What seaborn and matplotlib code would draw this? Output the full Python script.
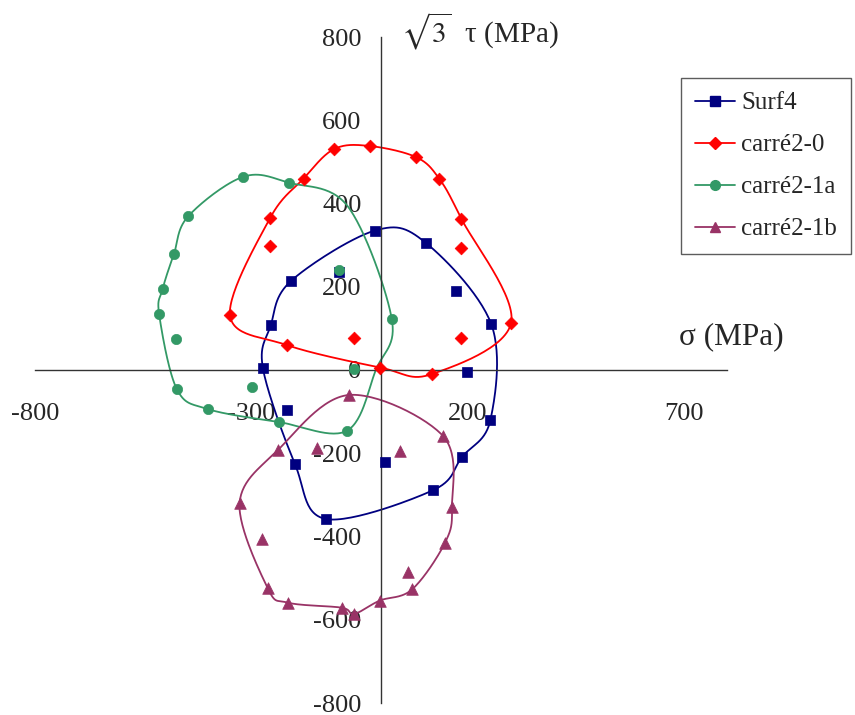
import numpy as np
import pandas as pd
import seaborn as sns
import matplotlib
matplotlib.use("Agg")
import matplotlib.pyplot as plt
from matplotlib.lines import Line2D

# ---------------- data ----------------
series_names = ["Surf4", "carré2-0", "carré2-1a", "carré2-1b"]

# measured points (markers)
surf4_x = [-14, 103, 173, 255, 199, -96, -208, -255, -273, -218, -199, -127, 10, 120, 188, 253]
surf4_y = [335, 306, 190, 110, -6, 236, 214, 107, 4, -96, -226, -358, -221, -289, -208, -120]

c20_x = [-25, -108, -179, -257, -257, -349, -218, -62, -2, 117, 184, 301, 184, 186, 135, 82]
c20_y = [538, 531, 460, 364, 298, 131, 60, 77, 6, -10, 78, 114, 292, 363, 459, 511]

c21a_x = [-319, -213, -446, -479, -505, -513, -475, -472, -299, -97, 25, -62, -400, -236, -79]
c21a_y = [464, 450, 369, 278, 194, 134, 75, -46, -42, 240, 122, 2, -94, -125, -146]

c21b_x = [-74, 143, 44, -149, -238, -327, -276, -262, -215, -91, -62, -3, 72, 62, 148, 164]
c21b_y = [-60, -158, -195, -188, -192, -320, -406, -524, -559, -571, -586, -554, -527, -485, -415, -330]

# closed smoothed envelope curves (knots, in order around each curve)
surf4_cx = [-14, 103, 255, 253, 188, 120, -127, -199, -273, -255, -208]
surf4_cy = [335, 306, 110, -120, -208, -289, -358, -226, 4, 107, 214]

c20_cx = [-25, 82, 135, 186, 301, 117, -2, -218, -349, -257, -179, -108]
c20_cy = [538, 511, 459, 363, 114, -10, 6, 60, 131, 364, 460, 531]

c21a_cx = [-319, -213, -76, 25, -12, -79, -236, -400, -472, -513, -505, -479, -446]
c21a_cy = [464, 450, 392, 122, 0, -146, -125, -94, -46, 134, 194, 278, 369]

c21b_cx = [-74, 143, 164, 148, 72, -3, -62, -91, -215, -262, -327, -238]
c21b_cy = [-60, -158, -330, -415, -527, -554, -586, -571, -559, -524, -320, -192]

x_ticks = [-800, -300, 200, 700]
y_ticks = [-800, -600, -400, -200, 0, 200, 400, 600, 800]

colors = ["#000080", "#FF0000", "#339966", "#993366"]
markers = ["s", "D", "o", "^"]
msizes = [58, 42, 55, 70]


def closed_catmull_rom(xs, ys, n=30):
    P = np.column_stack([xs, ys]).astype(float)
    m = len(P)
    out = []
    t = np.linspace(0, 1, n, endpoint=False)[:, None]
    for i in range(m):
        p0, p1, p2, p3 = P[(i - 1) % m], P[i], P[(i + 1) % m], P[(i + 2) % m]
        seg = 0.5 * ((2 * p1) + (-p0 + p2) * t + (2 * p0 - 5 * p1 + 4 * p2 - p3) * t ** 2
                     + (-p0 + 3 * p1 - 3 * p2 + p3) * t ** 3)
        out.append(seg)
    out.append(P[:1])
    arr = np.vstack(out)
    return arr[:, 0], arr[:, 1]


sns.set_style("white")
plt.rcParams["font.family"] = ["Liberation Serif", "DejaVu Serif"]
plt.rcParams["mathtext.fontset"] = "stix"
plt.rcParams["axes.unicode_minus"] = False

fig = plt.figure(figsize=(8.55, 7.15), dpi=100)
ax = fig.add_axes([35 / 855, 12 / 715, 692 / 855, 666 / 715])

pts = [(surf4_x, surf4_y), (c20_x, c20_y), (c21a_x, c21a_y), (c21b_x, c21b_y)]
crv = [(surf4_cx, surf4_cy), (c20_cx, c20_cy), (c21a_cx, c21a_cy), (c21b_cx, c21b_cy)]

for name, (px, py), (cx, cy), col, mk, ms in zip(series_names, pts, crv, colors, markers, msizes):
    sx, sy = closed_catmull_rom(cx, cy)
    cdf = pd.DataFrame({"x": sx, "y": sy})
    sns.lineplot(data=cdf, x="x", y="y", sort=False, estimator=None, color=col,
                 linewidth=1.3, ax=ax, zorder=2)
    pdf = pd.DataFrame({"x": px, "y": py})
    sns.scatterplot(data=pdf, x="x", y="y", marker=mk, s=ms, color=col,
                    edgecolor=col, linewidth=0.5, ax=ax, zorder=3)

ax.set_xlim(-800, 800)
ax.set_ylim(-800, 800)
ax.set_xlabel("")
ax.set_ylabel("")
ax.spines["left"].set_position(("data", 0))
ax.spines["bottom"].set_position(("data", 0))
ax.spines["top"].set_visible(False)
ax.spines["right"].set_visible(False)
for s in ["left", "bottom"]:
    ax.spines[s].set_color("#333333")
    ax.spines[s].set_linewidth(1.0)
ax.set_xticks(x_ticks)
ax.set_yticks(y_ticks)
ax.tick_params(axis="x", direction="out", length=8, width=1, color="#333333",
               labelsize=19, pad=16)
ax.tick_params(axis="y", direction="out", length=7, width=1, color="#333333",
               labelsize=19, pad=7)
ax.set_facecolor("none")
for lab in ax.get_yticklabels() + ax.get_xticklabels():
    lab.set_zorder(5)

fig.text(401 / 855, 1 - 31 / 715, r"$\sqrt{3}$  τ (MPa)", fontsize=21,
         ha="left", va="center")
fig.text(679 / 855, 1 - 337 / 715, "σ (MPa)", fontsize=22.5, ha="left", va="center")

handles = [Line2D([0], [0], color=c, marker=m, markersize=7 if m != "D" else 6,
                  linewidth=1.3) for c, m in zip(colors, markers)]
leg = fig.legend(handles, series_names, loc="upper left",
                 bbox_to_anchor=(681 / 855, 1 - 78 / 715), frameon=True,
                 fancybox=False, fontsize=18, handlelength=1.6, labelspacing=0.78,
                 borderpad=0.55, handletextpad=0.25, borderaxespad=0)
leg.get_frame().set_edgecolor("#333333")
leg.get_frame().set_linewidth(1.0)

fig.savefig("out.png", dpi=100)
